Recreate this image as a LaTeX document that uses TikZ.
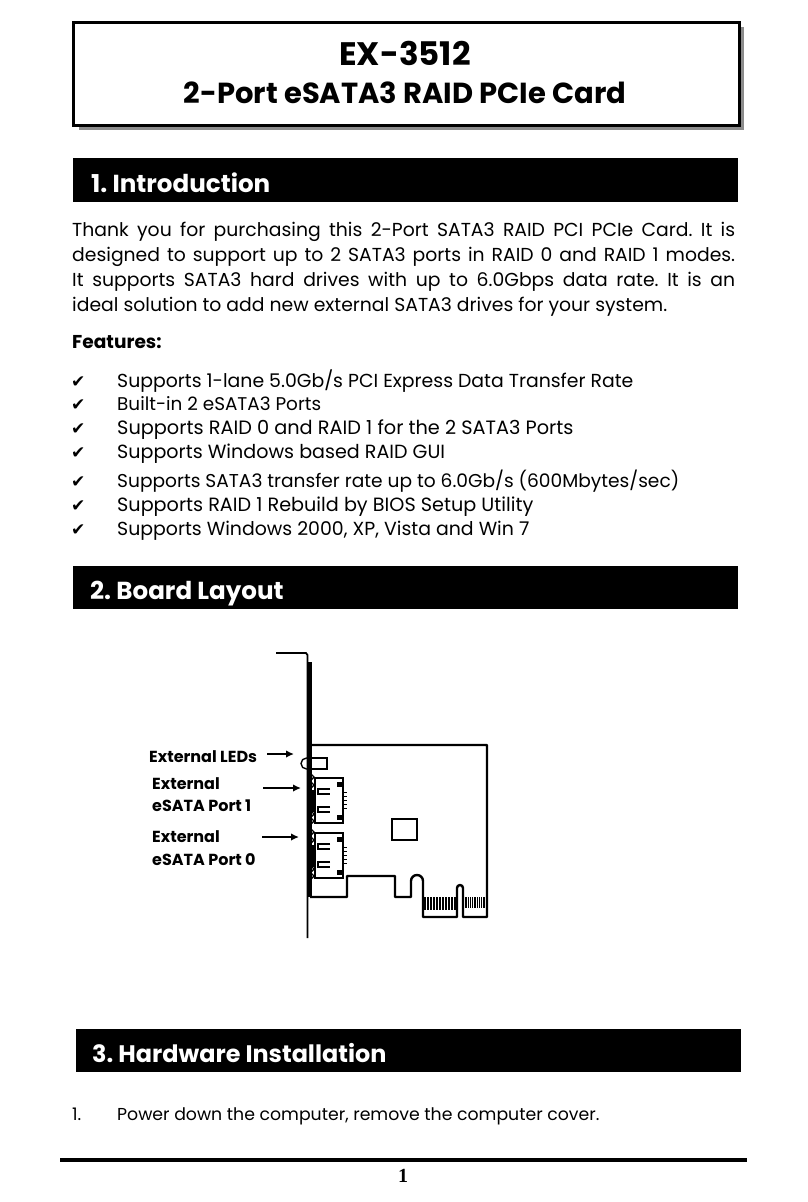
\documentclass[tikz,border=0pt]{standalone}
\usepackage{fontspec}
\usetikzlibrary{arrows.meta}
\setmainfont{Poppins}
\newfontfamily\checkfont{DejaVu Sans}
\newfontfamily\pagefont{Liberation Serif}
\frenchspacing

\tikzset{
	x=1pt, y=-1pt,
	secbar/.style={fill=black, draw=none},
	sechead/.style={anchor=base west, inner sep=0pt, text=white, font=\fontsize{24.6}{25}\selectfont\bfseries},
	bodyline/.style={anchor=base west, inner sep=0pt, font=\fontsize{18.8}{24}\selectfont},
	portlabel/.style={anchor=base west, inner sep=0pt, font=\fontsize{16}{22}\selectfont\bfseries},
	cardline/.style={line width=2.4pt, line join=round},
	thinline/.style={line width=1.4pt},
}

\begin{document}
\begin{tikzpicture}
	\useasboundingbox (0,0) rectangle (808,1202);

	% title box
	\fill[black!45] (79,27) rectangle (744,130);
	\draw[line width=3pt, fill=white] (73,22) rectangle (739,125);
	\node[inner sep=0pt, font=\fontsize{32.5}{32}\selectfont\bfseries] (title) at (405,53) {EX-3512};
	\node[inner sep=0pt, font=\fontsize{29}{29}\selectfont\bfseries] (subtitle) at (405,93) {2-Port eSATA3 RAID PCIe Card};

	% section bars
	\fill[secbar] (73,158) rectangle (738,202);
	\fill[secbar] (73,566) rectangle (738,609);
	\fill[secbar] (76,1029) rectangle (741,1072);
	\node[sechead] (intro) at (91,192) {1. Introduction};
	\node[sechead] (layout) at (90,599) {2. Board Layout};
	\node[sechead, font=\fontsize{23.9}{25}\selectfont\bfseries] (install) at (92,1062) {3. Hardware Installation};

	% intro text
	\foreach \y/\txt [count=\i] in {
		236/Thank you for purchasing this 2-Port SATA3 RAID PCI PCIe Card. It is,
		261/designed to support up to 2 SATA3 ports in RAID 0 and RAID 1 modes.,
		286/It supports SATA3 hard drives with up to 6.0Gbps data rate. It is an}
		\node[bodyline] (intro\i) at (72,\y) {\makebox[663pt][s]{\txt}};
	\node[bodyline] (intro4) at (72,311) {ideal solution to add new external SATA3 drives for your system.};
	\node[bodyline, font=\fontsize{18.6}{24}\selectfont\bfseries] (features) at (72,348) {Features:};

	% feature list
	\foreach \y/\sz/\txt [count=\i] in {
		387/18.85/{Supports 1-lane 5.0Gb/s PCI Express Data Transfer Rate},
		410/18.4/Built-in 2 eSATA3 Ports,
		434/19.3/Supports RAID 0 and RAID 1 for the 2 SATA3 Ports,
		458/19.1/Supports Windows based RAID GUI,
		487/18.6/{Supports SATA3 transfer rate up to 6.0Gb/s (600Mbytes/sec)},
		511/19.2/Supports RAID 1 Rebuild by BIOS Setup Utility,
		535/18.9/{Supports Windows 2000, XP, Vista and Win 7}} {
		\node[bodyline, font=\fontsize{17}{18}\selectfont\checkfont] (tick\i) at (71,\y) {✔};
		\node[bodyline, font=\fontsize{\sz}{24}\selectfont] (feat\i) at (117,\y) {\txt};
	}

	% bracket
	\draw[line width=1.8pt] (276,653) -- (306,653) -- (307.5,655) -- (307.5,938);
	\draw[line width=3.5pt] (310,662) -- (310,897);

	% card outline
	\draw[cardline] (310,745) -- (487,745) -- (487,917) -- (463,917) -- (463,888)
		arc (0:-180:3) -- (457,917) -- (423,917) -- (423,881) arc (0:-180:6) -- (411,897)
		-- (395,897) -- (395,876) -- (347,876) -- (347,897) -- (310,897);

	% chip and led
	\draw[line width=2.4pt] (392,819) rectangle (417,840);
	\draw[thinline] (310,758) -- (327,758) -- (327,769) -- (310,769);
	\draw[thinline] (310,769) -- (306.5,769) arc (90:270:5.5) -- (310,758);

	% ports
	\foreach \dy in {0,55} {
		\begin{scope}[yshift=-\dy pt]
			\draw[thinline] (315,778) rectangle (343,823);
			\fill (337,782) rectangle (343,787);
			\fill (337,815) rectangle (343,820);
			\draw[line width=1.7pt] (330,789) -- (318,789) -- (318,794) -- (330,794);
			\draw[line width=1.7pt] (330,807) -- (318,807) -- (318,812) -- (330,812);
			\foreach \p in {792,796,800,804,808}
				\draw[line width=.7pt] (343,\p) -- (347,\p);
			\draw[line width=2.4pt] (312.5,790) -- (312.5,812);
			\foreach \b in {777,785,814,821}
				\draw[thinline] (311,\b-3) -- (314,\b) -- (311,\b+3);
		\end{scope}
	}

	% gold fingers
	\foreach \x in {424,425.5,...,456}
		\draw[line width=.9pt] (\x,897) -- (\x,910);
	\foreach \x in {465,466.8,...,485}
		\draw[line width=.9pt] (\x,897) -- (\x,908);

	% labels
	\node[portlabel] (ledlabel) at (149,762) {External LEDs};
	\node[portlabel] (port1a) at (152,789) {External};
	\node[portlabel] (port1b) at (152,811) {eSATA Port 1};
	\node[portlabel] (port0a) at (152,842) {External};
	\node[portlabel] (port0b) at (152,865) {eSATA Port 0};
	\coordinate (ledtail) at (267,754);
	\coordinate (ledtip) at (294,754);
	\coordinate (port1tail) at (263,788);
	\coordinate (port1tip) at (301,788);
	\coordinate (port0tail) at (262,837);
	\coordinate (port0tip) at (299,837);
	\foreach \n in {led, port1, port0}
		\draw[line width=1.8pt, -{Latex[length=8pt,width=7.5pt]}] (\n tail) -- (\n tip);

	% step text
	\node[bodyline, font=\fontsize{17.3}{24}\selectfont] (step) at (72,1120) {1.};
	\node[bodyline, font=\fontsize{17.3}{24}\selectfont] (steptext) at (117,1120) {Power down the computer, remove the computer cover.};

	% foot
	\draw[line width=4pt] (60,1160) -- (747,1160);
	\node[inner sep=0pt, font=\fontsize{20}{20}\selectfont\pagefont\bfseries] (pageno) at (403,1176) {1};
\end{tikzpicture}
\end{document}
